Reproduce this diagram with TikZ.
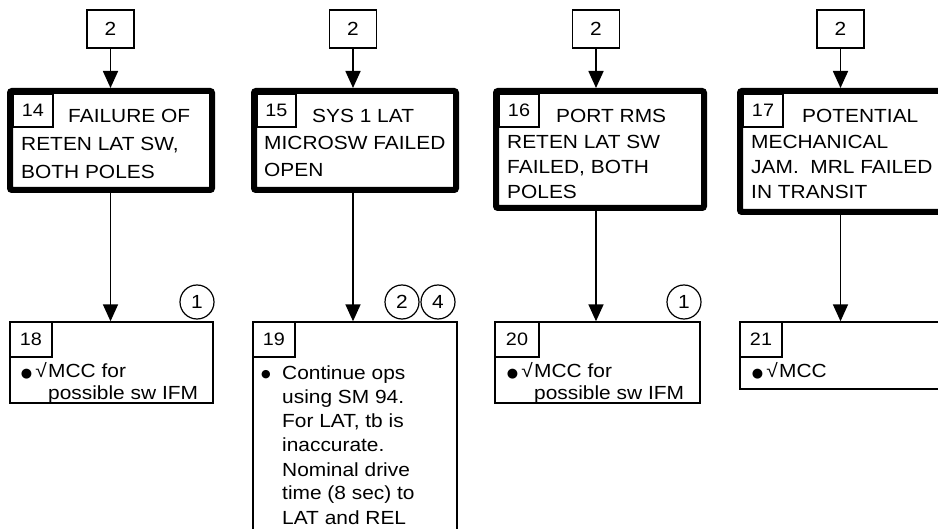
\documentclass[tikz,border=0pt]{standalone}
\usepackage{fontspec}
\setmainfont{Liberation Sans}[FakeStretch=1.1]
\newfontfamily\symf{DejaVu Sans}
\usetikzlibrary{arrows.meta}
\begin{document}
\begin{tikzpicture}[x=1pt,y=-1pt,
  thickbox/.style={draw, line width=6pt, rounded corners=2pt, inner sep=0pt},
  thinbox/.style={draw, line width=1.4pt, inner sep=0pt},
  numbox/.style={draw, line width=1.3pt, inner sep=0pt, font=\fontsize{18}{18}\selectfont},
  topbox/.style={draw, line width=1.3pt, inner sep=0pt, minimum width=47pt, minimum height=38pt, font=\fontsize{19}{19}\selectfont},
  circ/.style={draw, circle, line width=1.2pt, inner sep=0pt, minimum size=34pt, font=\fontsize{19}{19}\selectfont},
  arr/.style={line width=1.7pt, -{Triangle[width=15pt,length=17pt]}},
  txt/.style={anchor=base west, inner sep=0pt, font=\fontsize{19}{19}\selectfont},
  sym/.style={anchor=base east, inner sep=0pt, font=\fontsize{19}{19}\selectfont},
]
\useasboundingbox (0,0) rectangle (938,529);
\clip (0,0) rectangle (938,529);

% top boxes
\node[topbox] (t1) at (110.5,29) {2};
\node[topbox] (t2) at (353,29) {2};
\node[topbox] (t3) at (596,29) {2};
\node[topbox] (t4) at (840.5,29) {2};

% thick boxes
\node[thickbox, minimum width=202pt, minimum height=99pt] (b14) at (111,140.5) {};
\node[thickbox, minimum width=202pt, minimum height=99pt] (b15) at (355,140.5) {};
\node[thickbox, minimum width=208pt, minimum height=117pt] (b16) at (600,149.5) {};
\node[thickbox, minimum width=240pt, minimum height=121pt] (b17) at (860,151.5) {};

\node[numbox, minimum width=40pt, minimum height=33pt] (n14) at (33,110.5) {14};
\node[numbox, minimum width=39pt, minimum height=33pt] (n15) at (276.5,110.5) {15};
\node[numbox, minimum width=40pt, minimum height=33pt] (n16) at (519,110.5) {16};
\node[numbox, minimum width=40pt, minimum height=33pt] (n17) at (763,110.5) {17};

\node[txt] (l14a) at (68,123) {FAILURE OF};
\node[txt] (l14b) at (21,151) {RETEN LAT SW,};
\node[txt] (l14c) at (21,179) {BOTH POLES};

\node[txt] (l15a) at (312,123) {SYS 1 LAT};
\node[txt] (l15b) at (264,150) {MICROSW FAILED};
\node[txt] (l15c) at (264,177) {OPEN};

\node[txt] (l16a) at (556,123) {PORT RMS};
\node[txt] (l16b) at (507,149) {RETEN LAT SW};
\node[txt] (l16c) at (507,174) {FAILED, BOTH};
\node[txt] (l16d) at (507,199) {POLES};

\node[txt] (l17a) at (802,123) {POTENTIAL};
\node[txt] (l17b) at (751,149) {MECHANICAL};
\node[txt] (l17c) at (751,174) {JAM.\ \ MRL FAILED};
\node[txt] (l17d) at (751,199) {IN TRANSIT};

% bottom boxes
\node[thinbox, minimum width=203pt, minimum height=81pt] (b18) at (111.5,362.5) {};
\node[thinbox, minimum width=204pt, minimum height=278pt] (b19) at (355,461) {};
\node[thinbox, minimum width=205pt, minimum height=81pt] (b20) at (597.5,362.5) {};
\node[thinbox, minimum width=240pt, minimum height=67pt] (b21) at (860,355.5) {};

\node[numbox, minimum width=42pt, minimum height=35pt] (n18) at (31,339.5) {18};
\node[numbox, minimum width=42pt, minimum height=35pt] (n19) at (274,339.5) {19};
\node[numbox, minimum width=44pt, minimum height=35pt] (n20) at (517,339.5) {20};
\node[numbox, minimum width=42pt, minimum height=35pt] (n21) at (761,339.5) {21};

\node[sym] (s18) at (47,378) {{\symf\fontsize{13}{13}\selectfont ●}\,√};
\node[txt] (l18a) at (48,378) {MCC for};
\node[txt] (l18b) at (48,400) {possible sw IFM};

\node[sym] (s20) at (533,378) {{\symf\fontsize{13}{13}\selectfont ●}\,√};
\node[txt] (l20a) at (534,378) {MCC for};
\node[txt] (l20b) at (534,400) {possible sw IFM};

\node[sym] (s21) at (778,378) {{\symf\fontsize{13}{13}\selectfont ●}\,√};
\node[txt] (l21a) at (779,378) {MCC};

\node[sym] (s19) at (271,378) {{\symf\fontsize{11}{11}\selectfont ●}};
\node[txt] (l19a) at (282,380) {Continue ops};
\node[txt] (l19b) at (282,404) {using SM 94.};
\node[txt] (l19c) at (282,428) {For LAT, tb is};
\node[txt] (l19d) at (282,452) {inaccurate.};
\node[txt] (l19e) at (282,476) {Nominal drive};
\node[txt] (l19f) at (282,500) {time (8 sec) to};
\node[txt] (l19g) at (282,524) {LAT and REL};

% circles
\node[circ] (c18) at (197,302) {1};
\node[circ] (c19a) at (402,302) {2};
\node[circ] (c19b) at (438,302) {4};
\node[circ] (c20) at (684,302) {1};

% connectors
\draw[arr] (t1.south) -- (t1.south |- b14.north);
\draw[arr] (t2.south) -- (t2.south |- b15.north);
\draw[arr] (t3.south) -- (t3.south |- b16.north);
\draw[arr] (t4.south) -- (t4.south |- b17.north);
\draw[arr] (t1.south |- b14.south) -- (t1.south |- b18.north);
\draw[arr] (t2.south |- b15.south) -- (t2.south |- b19.north);
\draw[arr] (t3.south |- b16.south) -- (t3.south |- b20.north);
\draw[arr] (t4.south |- b17.south) -- (t4.south |- b21.north);
\end{tikzpicture}
\end{document}
